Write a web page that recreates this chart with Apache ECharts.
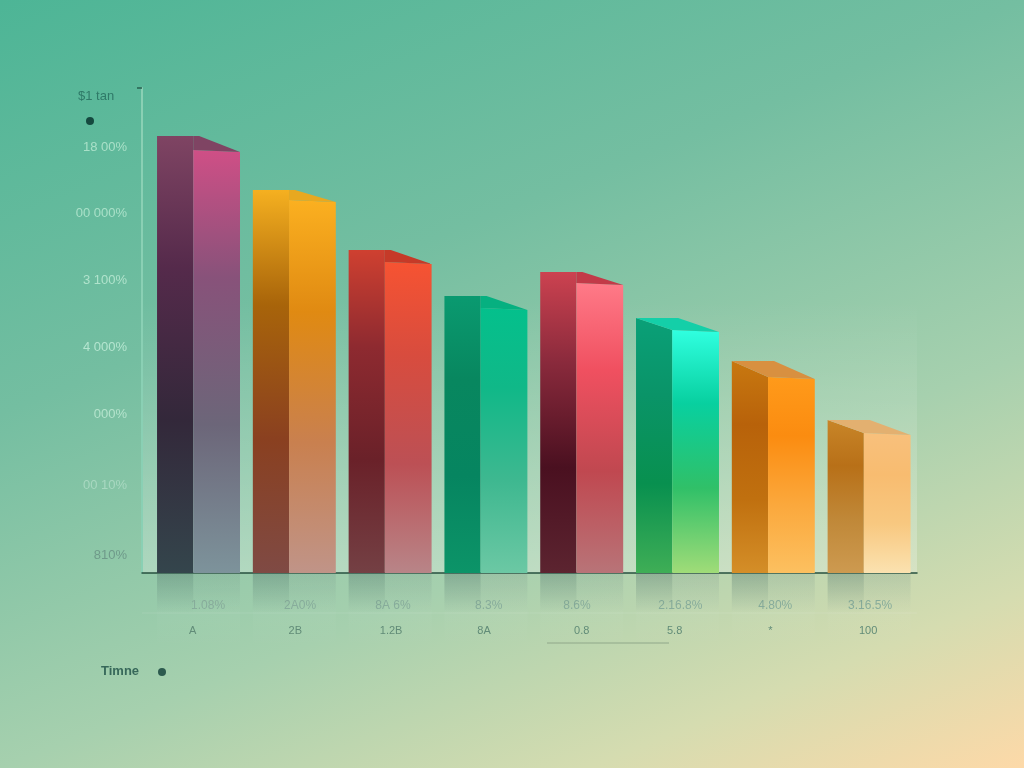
<!DOCTYPE html>
<html><head><meta charset="utf-8">
<style>html,body{margin:0;padding:0;background:#8fc8a8}#c{width:1024px;height:768px}</style>
<script src="https://cdn.jsdelivr.net/npm/echarts@6/dist/echarts.min.js"></script>
</head><body><div id="c"></div>
<script>
const barSlots = [1,2,3,4,5,6,7,8];
const frontValues = [423,373,311,265,290,243,196,140];
const backValues = [437,383,323,277,301,255,212,153];
const rowOneTicks = [1.10,2.06,3.03,4.03,4.95,6.03,7.02,8.01];
const rowOneLabels = ['1.08%','2A0%','8A 6%','8.3%','8.6%','2.16.8%','4.80%','3.16.5%'];
const rowTwoTicks = [0.94,2.01,3.01,3.98,5.00,5.97,6.97,7.99];
const rowTwoLabels = ['A','2B','1.2B','8A','0.8','5.8','*','100'];
const yTicks = [18,88,159,226,293,360,426];
const yLabels = ['810%','00 10%','000%','4 000%','3 100%','00 000%','18 00%'];
const yLabelColors = ['#6f9a8a','#a8d8c0','#b4e3cc','#b4e5cf','#b0e3cc','#a9e0c8','#a9e0c8'];
const sideColors = [
  ['#7f4463','#552a4b','#33283a','#34454c'],['#f5b020','#a8640a','#8a4020','#7f4a44'],
  ['#cf4030','#8e2a30','#6a2129','#744044'],['#0a9a70','#08875f','#068560','#0c9468'],
  ['#cc4250','#8a2a3c','#4a1020','#5c2430'],['#0aa078','#0a9468','#08904f','#3fae56'],
  ['#c87810','#b8620a','#c0700f','#d48e28'],['#c88528','#b87018','#c08838','#cd9a50']];
const frontColors = [
  ['#cf4f86','#88527a','#6c6679','#7d939b'],['#fbb020','#e08a12','#c9804f','#c09488'],
  ['#f65332','#d84c3e','#bc5055','#b88588'],['#04c08c','#10b888','#3eb890','#6cc8a4'],
  ['#ff7a88','#f05060','#c04850','#b87478'],['#30ffe0','#08d0a0','#30c068','#a0dc78'],
  ['#ff9a1a','#fb8c10','#fba83c','#fcc060'],['#f8c07c','#f8bc70','#f8c880','#fbe2b0']];
const topColors = ['#7f4463','#e8a820','#c53a28','#06b080','#c23a48','#14cfa8','#d89040','#e3b070'];
const flatShoulder = [true,true,true,true,true,false,false,false];

const chart = echarts.init(document.getElementById('c'), null, {width:1024,height:768,renderer:'canvas'});
const grad = c => new echarts.graphic.LinearGradient(0,0,0,1,[{offset:0,color:c[0]},{offset:.3,color:c[1]},{offset:.65,color:c[2]},{offset:1,color:c[3]}]);
const fade = (a) => new echarts.graphic.LinearGradient(0,0,0,1,[{offset:0,color:'rgba(50,90,80,'+a+')'},{offset:1,color:'rgba(50,90,80,0)'}]);
const whiteFade = new echarts.graphic.LinearGradient(0,0,0,1,[{offset:0,color:'rgba(255,255,255,0.05)'},{offset:1,color:'rgba(255,255,255,0)'}]);

function renderBar(params, api){
  const i = params.dataIndex;
  const x = api.value(0);
  const c = api.coord([x, 0]);
  const f = api.coord([x, api.value(1)]);
  const b = api.coord([x, api.value(2)]);
  const u = api.size([1,0])[0];
  const L = c[0]-0.433*u, S = c[0]-0.055*u, R = c[0]+0.433*u, M = L+0.44*u;
  const base = c[1];
  const flat = flatShoulder[i];
  return {type:'group',children:[
    {type:'rect',shape:{x:L,y:base,width:S-L,height:40},style:{fill:fade(.32)}},
    {type:'rect',shape:{x:S,y:base,width:R-S,height:40},style:{fill:fade(.14)}},
    {type:'rect',shape:{x:L,y:base,width:R-L,height:78},style:{fill:whiteFade}},
    {type:'polygon',shape:{points:flat?[[L,b[1]],[S,b[1]],[S,base],[L,base]]:[[L,b[1]],[S,f[1]],[S,base],[L,base]]},style:{fill:grad(sideColors[i])}},
    {type:'polygon',shape:{points:[[S,f[1]],[R,f[1]+2],[R,base],[S,base]]},style:{fill:grad(frontColors[i])}},
    {type:'polygon',shape:{points:flat?[[S,b[1]],[M,b[1]],[R,f[1]+2],[S,f[1]]]:[[L,b[1]],[M,b[1]],[R,f[1]+2],[S,f[1]]]},style:{fill:topColors[i]}}
  ]};
}

chart.setOption({
  animation:false,
  backgroundColor:new echarts.graphic.LinearGradient(0,0,410,1016,[
    {offset:0,color:'#4db596'},{offset:.35,color:'#74bea1'},{offset:.65,color:'#a6d0ae'},{offset:.85,color:'#d5dcb0'},{offset:1,color:'#fdd9a8'}],true),
  grid:{left:142,top:88,width:775,height:485,containLabel:false},
  graphic:[
    {type:'rect',silent:true,z:-1,shape:{x:142,y:300,width:775,height:273},style:{fill:new echarts.graphic.LinearGradient(0,0,0,1,[{offset:0,color:'rgba(255,255,255,0)'},{offset:1,color:'rgba(255,255,255,0.25)'}])}},
    {type:'line',silent:true,shape:{x1:142,y1:613,x2:917,y2:613},style:{stroke:'rgba(255,255,255,0.10)',lineWidth:1}},
    {type:'line',silent:true,shape:{x1:547,y1:643,x2:669,y2:643},style:{stroke:'#8fa88a',lineWidth:1.2}},
    {type:'text',silent:true,style:{x:78,y:90,text:'$1 tan',fill:'#2f7a68',font:'13px "Liberation Sans"'}},
    {type:'circle',silent:true,shape:{cx:90,cy:121,r:4},style:{fill:'#15493f'}},
    {type:'text',silent:true,style:{x:101,y:665,text:'Timne',fill:'#37685a',font:'bold 13px "Liberation Sans"'}},
    {type:'circle',silent:true,shape:{cx:162,cy:672,r:4},style:{fill:'#2c5a4e'}}
  ],
  xAxis:[
    {type:'value',min:0.41,max:8.5,position:'bottom',splitLine:{show:false},
     axisLine:{show:true,onZero:false,lineStyle:{color:'#27503f',width:1.5}},axisTick:{show:false},
     axisLabel:{show:true,margin:27,fontSize:12,fontFamily:'Liberation Sans',color:'#86ac9a',customValues:rowOneTicks,
       formatter:v=>rowOneLabels[rowOneTicks.indexOf(v)]}},
    {type:'value',min:0.41,max:8.5,position:'bottom',splitLine:{show:false},
     axisLine:{show:false},axisTick:{show:false},
     axisLabel:{show:true,margin:52,fontSize:11,fontFamily:'Liberation Sans',color:'#5f8a76',customValues:rowTwoTicks,
       formatter:v=>rowTwoLabels[rowTwoTicks.indexOf(v)]}}
  ],
  yAxis:{type:'value',min:0,max:485,splitLine:{show:false},
    axisLine:{show:true,lineStyle:{color:'#8ad0b4',width:2}},
    axisTick:{show:true,length:5,customValues:[485],lineStyle:{color:'#27604f',width:1.5}},
    axisLabel:{show:true,margin:15,fontSize:13,fontFamily:'Liberation Sans',customValues:yTicks,
      color:v=>yLabelColors[yTicks.indexOf(+v)],
      formatter:v=>yLabels[yTicks.indexOf(v)]}},
  series:[{type:'custom',xAxisIndex:0,yAxisIndex:0,clip:false,renderItem:renderBar,
    encode:{x:0,y:[1,2]},data:barSlots.map((x,i)=>[x,frontValues[i],backValues[i]])}]
});
</script></body></html>
